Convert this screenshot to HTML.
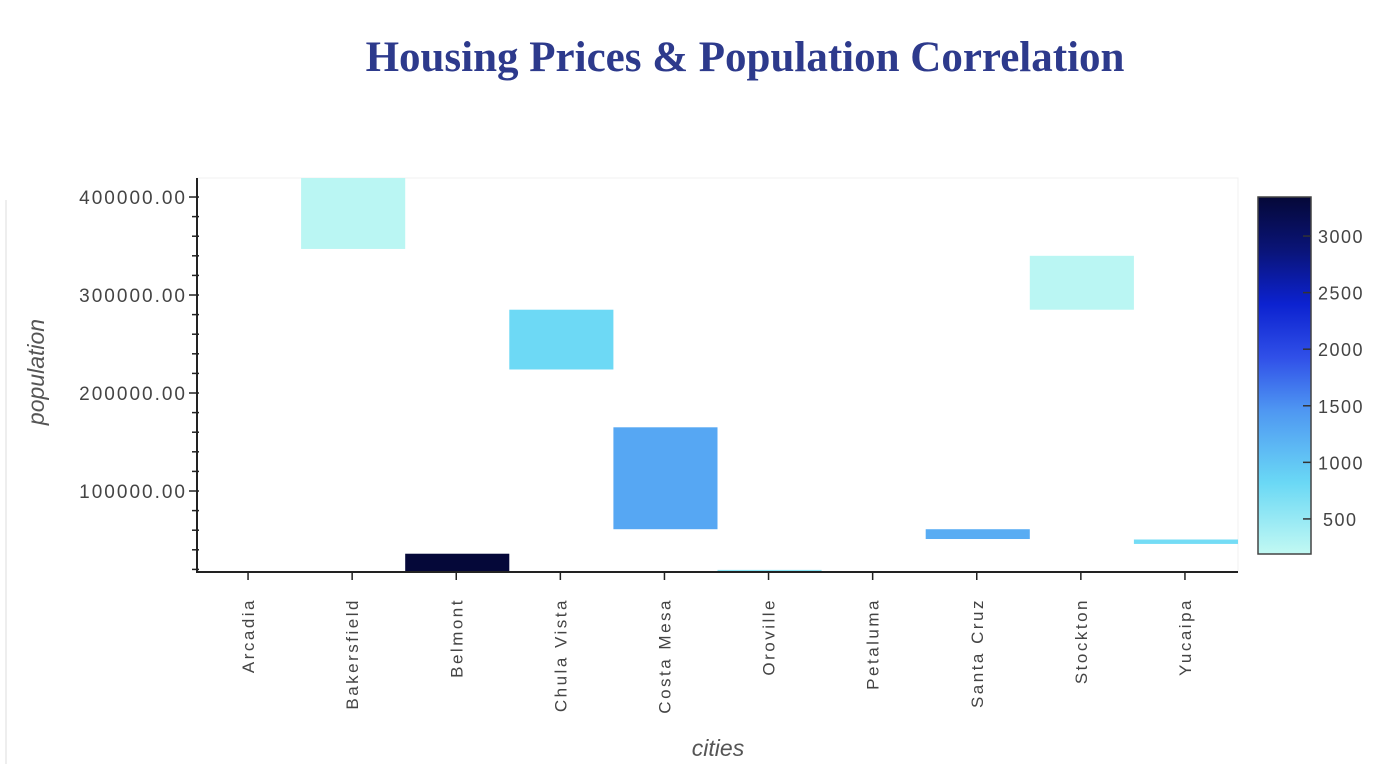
<!DOCTYPE html>
<html><head><meta charset="utf-8"><style>
body{margin:0;background:#fff;width:1382px;height:764px;overflow:hidden;font-family:"Liberation Sans",sans-serif}
</style></head><body>
<svg id="chart" width="1382" height="764">
<text x="745" y="71" text-anchor="middle" font-family="Liberation Serif" font-weight="bold" font-size="43" fill="#2d3a8c">Housing Prices &amp; Population Correlation</text>
<line x1="6" y1="200" x2="6" y2="764" stroke="#ddd"/>
<rect x="197" y="178" width="1041" height="394" fill="#fff" stroke="#f0f0f0"/>
<g id="marks"></g><g id="axes"></g>
<text transform="translate(44,372) rotate(-90)" text-anchor="middle" font-style="italic" font-size="23" fill="#555">population</text>
<text x="718" y="756" text-anchor="middle" font-style="italic" font-size="23" fill="#555">cities</text>
<defs><linearGradient id="cg" x1="0" y1="1" x2="0" y2="0"></linearGradient></defs>
<rect x="1258" y="197" width="53" height="357" fill="url(#cg)" stroke="#444" stroke-width="1.5"/>
<g id="cbar"></g>
</svg>
<script>
const cities=["Arcadia","Bakersfield","Belmont","Chula Vista","Costa Mesa","Oroville","Petaluma","Santa Cruz","Stockton","Yucaipa"];
const popLow=[null,347000,17000,224000,61000,17500,null,51000,285000,46000];
const popHigh=[null,430000,36000,285000,165000,19500,null,61000,340000,50500];
const price=[null,250,3340,800,1300,600,null,1250,250,750];
const yTicks=[100000,200000,300000,400000];
const cTicks=[500,1000,1500,2000,2500,3000];
const NS="http://www.w3.org/2000/svg";
const X0=197,X1=1238,YT=178,YB=572;
const yMin=17347,yMax=419400,cMin=190,cMax=3345;
const y=v=>YB-(v-yMin)/(yMax-yMin)*(YB-YT);
const bw=(X1-X0)/cities.length;
const xc=i=>X0+bw*(i+0.5)-2;
const cy=v=>554-(v-cMin)/(cMax-cMin)*357;
const stops=[[0,"#c2f9f3"],[0.2,"#6ad8f5"],[0.4,"#4f98f2"],[0.55,"#3050e8"],[0.7,"#0c22d0"],[0.85,"#0a1478"],[1,"#050838"]];
const hex=h=>[1,3,5].map(k=>parseInt(h.substr(k,2),16));
function col(v){let t=Math.max(0,Math.min(1,(v-cMin)/(cMax-cMin)));for(let k=1;k<stops.length;k++){if(t<=stops[k][0]){const a=hex(stops[k-1][1]),b=hex(stops[k][1]);const f=(t-stops[k-1][0])/(stops[k][0]-stops[k-1][0]);return "rgb("+a.map((c,j)=>Math.round(c+(b[j]-c)*f)).join(",")+")";}}return stops[stops.length-1][1];}
const g=document.getElementById("cg");
stops.forEach(s=>{const st=document.createElementNS(NS,"stop");st.setAttribute("offset",s[0]);st.setAttribute("stop-color",s[1]);g.appendChild(st);});
function el(tag,attrs,parent){const e=document.createElementNS(NS,tag);for(const k in attrs)e.setAttribute(k,attrs[k]);document.getElementById(parent).appendChild(e);return e;}
cities.forEach((c,i)=>{
 if(popLow[i]==null)return;
 const top=Math.max(YT,y(popHigh[i])),bot=Math.min(YB,y(popLow[i]));
 const r=el("rect",{x:X0+bw*i,y:top,width:bw,height:Math.max(1,bot-top),fill:col(price[i])},"marks");
 
 
});
const ax=el("path",{d:`M${X0} ${YT} V${YB} H${X1}`,stroke:"#222",fill:"none","stroke-width":2},"axes");


for(let v=20000;v<=400000;v+=20000){const major=v%100000==0;el("line",{x1:X0-(major?8:5),x2:X0+2,y1:y(v),y2:y(v),stroke:"#222","stroke-width":1.5},"axes");}
yTicks.forEach(v=>{const t=el("text",{x:X0-10,y:y(v)+7,"text-anchor":"end","font-size":19,"letter-spacing":"2",fill:"#444"},"axes");t.textContent=v.toFixed(2);

});
cities.forEach((c,i)=>{el("line",{x1:xc(i)+1,x2:xc(i)+1,y1:YB,y2:YB+8,stroke:"#222","stroke-width":1.5},"axes");
const t=el("text",{transform:`translate(${xc(i)+7},${YB+26}) rotate(-90)`,"text-anchor":"end","font-size":17,fill:"#444","letter-spacing":"2.5"},"axes");t.textContent=c;

});
cTicks.forEach(v=>{el("line",{x1:1303,x2:1311,y1:cy(v),y2:cy(v),stroke:"#333","stroke-width":1.5},"cbar");
const t=el("text",{x:v<1000?1323:1318,y:cy(v)+7,"font-size":18,"letter-spacing":"1.5",fill:"#444"},"cbar");t.textContent=v;

});
</script>
</body></html>
